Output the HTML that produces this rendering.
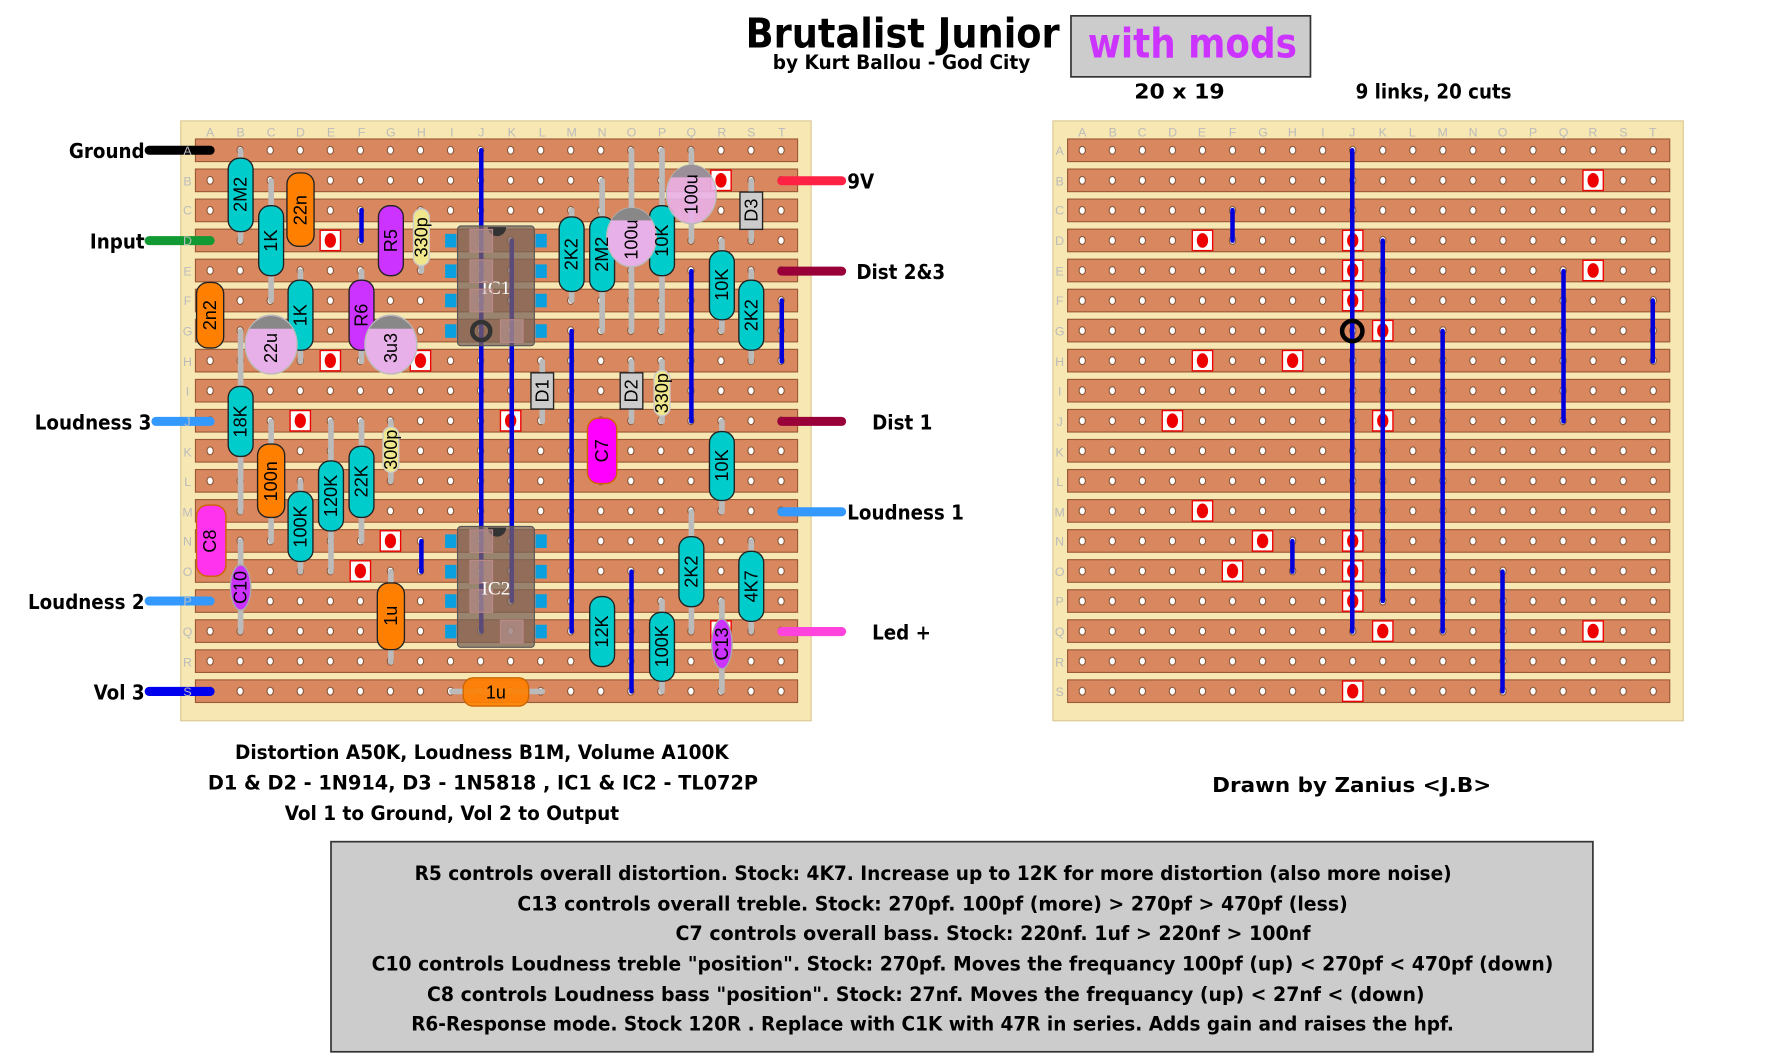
<!DOCTYPE html>
<html><head><meta charset="utf-8"><style>
html,body{margin:0;padding:0;background:#fff;}
svg{display:block;}
.t{font-family:"DejaVu Sans Condensed","Liberation Sans Narrow","Liberation Sans",sans-serif;font-weight:bold;fill:#000;}
.g{font-family:"Liberation Sans",sans-serif;font-size:11px;fill:#bbb;text-anchor:middle;}
.cl{font-family:"Liberation Sans",sans-serif;font-size:16px;text-anchor:middle;dominant-baseline:central;fill:#000;}
.lead{stroke:#bbb;stroke-width:5;stroke-linecap:round;}
.c{stroke:#222;stroke-width:1.2;}
.lk{stroke:#0000dd;stroke-width:4;stroke-linecap:round;}
.w{stroke-width:8;stroke-linecap:round;}
</style></head><body>
<svg id="s" width="1768" height="1062" viewBox="0 0 1565 940" xmlns="http://www.w3.org/2000/svg">
<defs><clipPath id="ct1"><rect x="0" y="0" width="1565" height="8"/></clipPath></defs>
<text class="t" x="660" y="42" font-size="36" textLength="278" lengthAdjust="spacingAndGlyphs">Brutalist Junior</text>
<text class="t" x="684" y="61" font-size="17" textLength="228" lengthAdjust="spacingAndGlyphs">by Kurt Ballou - God City</text>
<rect x="948" y="14" width="212" height="54" fill="#cccccc" stroke="#333" stroke-width="1.5"/>
<text class="t" x="963" y="51" font-size="36" style="fill:#cc33ff" textLength="185" lengthAdjust="spacingAndGlyphs">with  mods</text>
<text class="t" x="1004" y="87" font-size="18" textLength="80" lengthAdjust="spacingAndGlyphs">20 x 19</text>
<text class="t" x="1200" y="87" font-size="18" textLength="138" lengthAdjust="spacingAndGlyphs">9 links, 20 cuts</text>

<rect x="160" y="107" width="558" height="531" fill="#f7e7b2" stroke="#d8c890"/>
<rect x="932" y="107" width="558" height="531" fill="#f7e7b2" stroke="#d8c890"/>
<g id="strips"></g>
<g id="letters"></g>
<g id="holes"></g>
<g id="cutsL"></g>
<g id="cutsR"></g>

<line class="w" x1="132" y1="133" x2="186" y2="133" stroke="#000"/>
<line class="w" x1="132" y1="213" x2="186" y2="213" stroke="#119933"/>
<line class="w" x1="138" y1="373" x2="186" y2="373" stroke="#3399ff"/>
<line class="w" x1="132" y1="532" x2="186" y2="532" stroke="#3399ff"/>
<line class="w" x1="132" y1="612" x2="186" y2="612" stroke="#0000ee"/>
<line class="w" x1="692" y1="160" x2="745" y2="160" stroke="#ff2244"/>
<line class="w" x1="692" y1="240" x2="745" y2="240" stroke="#99003a"/>
<line class="w" x1="692" y1="373" x2="745" y2="373" stroke="#99003a"/>
<line class="w" x1="692" y1="453" x2="745" y2="453" stroke="#3399ff"/>
<line class="w" x1="692" y1="559" x2="745" y2="559" stroke="#ff44dd"/>
<text class="t" x="128" y="140" font-size="18" text-anchor="end">Ground</text>
<text class="t" x="128" y="220" font-size="18" text-anchor="end">Input</text>
<text class="t" x="134" y="380" font-size="18" text-anchor="end">Loudness 3</text>
<text class="t" x="128" y="539" font-size="18" text-anchor="end">Loudness 2</text>
<text class="t" x="128" y="619" font-size="18" text-anchor="end">Vol 3</text>
<text class="t" x="750" y="167" font-size="18">9V</text>
<text class="t" x="758" y="247" font-size="18">Dist 2&amp;3</text>
<text class="t" x="772" y="380" font-size="18">Dist 1</text>
<text class="t" x="750" y="460" font-size="18">Loudness 1</text>
<text class="t" x="772" y="566" font-size="18">Led +</text>

<line class="lk" x1="426" y1="133" x2="426" y2="559"/>
<line class="lk" x1="453" y1="213" x2="453" y2="532"/>
<line class="lk" x1="320" y1="186" x2="320" y2="213"/>
<line class="lk" x1="506" y1="293" x2="506" y2="559"/>
<line class="lk" x1="612" y1="240" x2="612" y2="373"/>
<line class="lk" x1="692" y1="266" x2="692" y2="320"/>
<line class="lk" x1="559" y1="506" x2="559" y2="612"/>
<line class="lk" x1="373" y1="479" x2="373" y2="506"/>
<line class="lk" x1="1197" y1="133" x2="1197" y2="559"/>
<line class="lk" x1="1224" y1="213" x2="1224" y2="532"/>
<line class="lk" x1="1091" y1="186" x2="1091" y2="213"/>
<line class="lk" x1="1277" y1="293" x2="1277" y2="559"/>
<line class="lk" x1="1384" y1="240" x2="1384" y2="373"/>
<line class="lk" x1="1463" y1="266" x2="1463" y2="320"/>
<line class="lk" x1="1330" y1="506" x2="1330" y2="612"/>
<line class="lk" x1="1144" y1="479" x2="1144" y2="506"/>
<circle cx="1197" cy="293" r="9" fill="none" stroke="#000" stroke-width="4"/>

<g>
<line class="lead" x1="213" y1="133" x2="213" y2="213"/>
<line class="lead" x1="240" y1="160" x2="240" y2="266"/>
<line class="lead" x1="266" y1="160" x2="266" y2="213"/>
<line class="lead" x1="346" y1="186" x2="346" y2="240"/>
<line class="lead" x1="373" y1="186" x2="373" y2="240"/>
<line class="lead" x1="506" y1="186" x2="506" y2="266"/>
<line class="lead" x1="533" y1="160" x2="533" y2="293"/>
<line class="lead" x1="559" y1="133" x2="559" y2="293"/>
<line class="lead" x1="586" y1="133" x2="586" y2="293"/>
<line class="lead" x1="612" y1="133" x2="612" y2="213"/>
<line class="lead" x1="665" y1="160" x2="665" y2="213"/>
<line class="lead" x1="639" y1="213" x2="639" y2="293"/>
<line class="lead" x1="665" y1="240" x2="665" y2="320"/>
<line class="lead" x1="266" y1="240" x2="266" y2="320"/>
<line class="lead" x1="320" y1="240" x2="320" y2="320"/>
<line class="lead" x1="213" y1="293" x2="213" y2="453"/>
<line class="lead" x1="480" y1="320" x2="480" y2="373"/>
<line class="lead" x1="559" y1="320" x2="559" y2="373"/>
<line class="lead" x1="586" y1="320" x2="586" y2="373"/>
<line class="lead" x1="346" y1="373" x2="346" y2="426"/>
<line class="lead" x1="240" y1="373" x2="240" y2="479"/>
<line class="lead" x1="293" y1="373" x2="293" y2="506"/>
<line class="lead" x1="320" y1="373" x2="320" y2="479"/>
<line class="lead" x1="266" y1="426" x2="266" y2="506"/>
<line class="lead" x1="639" y1="373" x2="639" y2="453"/>
<line class="lead" x1="213" y1="479" x2="213" y2="559"/>
<line class="lead" x1="346" y1="506" x2="346" y2="586"/>
<line class="lead" x1="533" y1="532" x2="533" y2="586"/>
<line class="lead" x1="586" y1="532" x2="586" y2="612"/>
<line class="lead" x1="612" y1="453" x2="612" y2="559"/>
<line class="lead" x1="665" y1="479" x2="665" y2="559"/>
<line class="lead" x1="639" y1="532" x2="639" y2="612"/>
<line class="lead" x1="400" y1="612" x2="480" y2="612"/>
</g>

<g>
<g fill="#0aa0e0"><rect x="394" y="207" width="10" height="12"/><rect x="394" y="234" width="10" height="12"/><rect x="394" y="260" width="10" height="12"/><rect x="394" y="287" width="10" height="12"/>
<rect x="474" y="207" width="10" height="12"/><rect x="474" y="234" width="10" height="12"/><rect x="474" y="260" width="10" height="12"/><rect x="474" y="287" width="10" height="12"/>
<rect x="394" y="473" width="10" height="12"/><rect x="394" y="500" width="10" height="12"/><rect x="394" y="526" width="10" height="12"/><rect x="394" y="553" width="10" height="12"/>
<rect x="474" y="473" width="10" height="12"/><rect x="474" y="500" width="10" height="12"/><rect x="474" y="526" width="10" height="12"/><rect x="474" y="553" width="10" height="12"/></g>
<rect x="405" y="200" width="68" height="106" rx="3" fill="#7a6458" fill-opacity="0.75" stroke="#555"/>
<path d="M432 201 a8 8 0 0 0 16 0z" fill="#333"/>
<circle cx="426" cy="293" r="8" fill="none" stroke="#333" stroke-width="4"/>
<text x="439" y="260" font-family="Liberation Serif,serif" font-size="17" fill="#fff" text-anchor="middle">IC1</text>
<rect x="405" y="466" width="68" height="107" rx="3" fill="#7a6458" fill-opacity="0.75" stroke="#555"/>
<path d="M432 467 a8 8 0 0 0 16 0z" fill="#333"/>
<g fill="#c0a0a0" fill-opacity="0.5" stroke="#bb8888"><rect x="416" y="203" width="20" height="20"/><rect x="416" y="230" width="20" height="20"/><rect x="416" y="256" width="20" height="20"/><rect x="443" y="283" width="20" height="20"/><rect x="416" y="469" width="20" height="20"/><rect x="416" y="496" width="20" height="20"/><rect x="416" y="522" width="20" height="20"/><rect x="443" y="549" width="20" height="20"/></g>
<text x="439" y="526" font-family="Liberation Serif,serif" font-size="17" fill="#fff" text-anchor="middle">IC2</text>
</g>

<g class="c">
<rect x="202" y="140" width="22" height="65" rx="10" fill="#00cccc"/>
<rect x="229" y="182" width="22" height="62" rx="10" fill="#00cccc"/>
<rect x="254" y="153" width="24" height="65" rx="10" fill="#ff8000"/>
<rect x="335" y="182" width="22" height="62" rx="10" fill="#cc33ff"/>
<rect x="366" y="185" width="14" height="50" rx="7" fill="#f0e68c" stroke="#ccc"/>
<rect x="495" y="192" width="22" height="66" rx="10" fill="#00cccc"/>
<rect x="522" y="192" width="22" height="66" rx="10" fill="#00cccc"/>
<rect x="575" y="182" width="22" height="62" rx="10" fill="#00cccc"/>
<ellipse cx="559" cy="210" rx="22" ry="26" fill="#e8b0e8" stroke="#bbb"/>
<path d="M541 195 A22 26 0 0 1 577 195 Z" fill="#888" stroke="none"/>
<ellipse cx="612" cy="172" rx="22" ry="26" fill="#e8b0e8" fill-opacity="0.9" stroke="#bbb"/>
<path d="M594 157 A22 26 0 0 1 630 157 Z" fill="#888" fill-opacity="0.8" stroke="none"/>
<rect x="655" y="170" width="20" height="33" fill="#cccccc"/>
<rect x="628" y="222" width="22" height="61" rx="10" fill="#00cccc"/>
<rect x="654" y="248" width="22" height="62" rx="10" fill="#00cccc"/>
<rect x="174" y="250" width="24" height="58" rx="10" fill="#ff8000"/>
<rect x="255" y="248" width="22" height="62" rx="10" fill="#00cccc"/>
<rect x="309" y="248" width="22" height="62" rx="10" fill="#cc33ff"/>
<ellipse cx="240" cy="305" rx="23" ry="26" fill="#e8b0e8" stroke="#bbb"/>
<path d="M221 291 A23 26 0 0 1 259 291 Z" fill="#888" stroke="none"/>
<ellipse cx="346" cy="305" rx="23" ry="26" fill="#e8b0e8" stroke="#bbb"/>
<path d="M327 291 A23 26 0 0 1 365 291 Z" fill="#888" stroke="none"/>
<rect x="470" y="330" width="20" height="32" fill="#cccccc"/>
<rect x="549" y="330" width="20" height="32" fill="#cccccc"/>
<rect x="579" y="328" width="14" height="40" rx="7" fill="#f0e68c" stroke="#ccc"/>
<rect x="202" y="342" width="22" height="62" rx="10" fill="#00cccc"/>
<rect x="339" y="378" width="14" height="40" rx="7" fill="#f0e68c" stroke="#ccc"/>
<rect x="228" y="393" width="24" height="65" rx="10" fill="#ff8000"/>
<rect x="282" y="408" width="22" height="62" rx="10" fill="#00cccc"/>
<rect x="309" y="395" width="22" height="63" rx="10" fill="#00cccc"/>
<rect x="255" y="435" width="22" height="62" rx="10" fill="#00cccc"/>
<rect x="520" y="370" width="26" height="58" rx="10" fill="#ff00ff" stroke="#c60"/>
<rect x="628" y="382" width="22" height="61" rx="10" fill="#00cccc"/>
<rect x="174" y="447" width="26" height="63" rx="10" fill="#ff33ee" stroke="#c60"/>
<ellipse cx="213" cy="520" rx="9" ry="20" fill="#cc33ff" stroke="#aaa"/>
<rect x="334" y="516" width="24" height="59" rx="10" fill="#ff8000"/>
<rect x="522" y="528" width="22" height="62" rx="10" fill="#00cccc"/>
<rect x="575" y="542" width="22" height="61" rx="10" fill="#00cccc"/>
<rect x="601" y="475" width="22" height="62" rx="10" fill="#00cccc"/>
<rect x="654" y="488" width="22" height="62" rx="10" fill="#00cccc"/>
<ellipse cx="639" cy="570" rx="9" ry="22" fill="#cc33ff" stroke="#aaa"/>
<rect x="410" y="600" width="58" height="25" rx="9" fill="#ff8000" fill-opacity="0.9" stroke="#c60"/>
</g>
<g>
<text class="cl" transform="translate(213,172) rotate(-90)">2M2</text>
<text class="cl" transform="translate(240,213) rotate(-90)">1K</text>
<text class="cl" transform="translate(266,186) rotate(-90)">22n</text>
<text class="cl" transform="translate(346,213) rotate(-90)">R5</text>
<text class="cl" font-size="14" transform="translate(373,210) rotate(-90)">330p</text>
<text class="cl" transform="translate(506,225) rotate(-90)">2K2</text>
<text class="cl" transform="translate(533,225) rotate(-90)">2M2</text>
<text class="cl" transform="translate(586,213) rotate(-90)">10K</text>
<text class="cl" transform="translate(559,212) rotate(-90)">100u</text>
<text class="cl" transform="translate(612,172) rotate(-90)">100u</text>
<text class="cl" transform="translate(665,186) rotate(-90)">D3</text>
<text class="cl" transform="translate(639,252) rotate(-90)">10K</text>
<text class="cl" transform="translate(665,279) rotate(-90)">2K2</text>
<text class="cl" transform="translate(186,279) rotate(-90)">2n2</text>
<text class="cl" transform="translate(266,279) rotate(-90)">1K</text>
<text class="cl" transform="translate(320,279) rotate(-90)">R6</text>
<text class="cl" transform="translate(240,308) rotate(-90)">22u</text>
<text class="cl" transform="translate(346,308) rotate(-90)">3u3</text>
<text class="cl" transform="translate(480,346) rotate(-90)">D1</text>
<text class="cl" transform="translate(559,346) rotate(-90)">D2</text>
<text class="cl" font-size="14" transform="translate(586,348) rotate(-90)">330p</text>
<text class="cl" transform="translate(213,373) rotate(-90)">18K</text>
<text class="cl" font-size="14" transform="translate(346,398) rotate(-90)">300p</text>
<text class="cl" transform="translate(240,426) rotate(-90)">100n</text>
<text class="cl" transform="translate(293,439) rotate(-90)">120K</text>
<text class="cl" transform="translate(320,426) rotate(-90)">22K</text>
<text class="cl" transform="translate(266,466) rotate(-90)">100K</text>
<text class="cl" transform="translate(533,399) rotate(-90)">C7</text>
<text class="cl" transform="translate(639,412) rotate(-90)">10K</text>
<text class="cl" transform="translate(186,479) rotate(-90)">C8</text>
<text class="cl" font-size="14" transform="translate(213,520) rotate(-90)">C10</text>
<text class="cl" transform="translate(346,545) rotate(-90)">1u</text>
<text class="cl" transform="translate(533,559) rotate(-90)">12K</text>
<text class="cl" transform="translate(586,572) rotate(-90)">100K</text>
<text class="cl" transform="translate(612,506) rotate(-90)">2K2</text>
<text class="cl" transform="translate(665,519) rotate(-90)">4K7</text>
<text class="cl" font-size="14" transform="translate(639,570) rotate(-90)">C13</text>
<text class="cl" x="439" y="613">1u</text>
</g>

<text class="t" x="208" y="672" font-size="17" textLength="437" lengthAdjust="spacingAndGlyphs">Distortion A50K, Loudness B1M, Volume A100K</text>
<text class="t" x="184" y="699" font-size="17" textLength="487" lengthAdjust="spacingAndGlyphs">D1 &amp; D2 - 1N914,  D3 - 1N5818 ,  IC1 &amp; IC2 - TL072P</text>
<text class="t" x="252" y="726" font-size="17" textLength="296" lengthAdjust="spacingAndGlyphs">Vol 1 to Ground, Vol 2 to Output</text>
<text class="t" x="1073" y="701" font-size="18" textLength="247" lengthAdjust="spacingAndGlyphs">Drawn by Zanius &lt;J.B&gt;</text>

<rect x="293" y="745" width="1117" height="186" fill="#cccccc" stroke="#333" stroke-width="1.5"/>
<text class="t" x="367" y="779" font-size="17" textLength="918" lengthAdjust="spacingAndGlyphs">R5 controls overall distortion. Stock: 4K7. Increase up to 12K for more distortion (also more noise)</text>
<text class="t" x="458" y="806" font-size="17" textLength="735" lengthAdjust="spacingAndGlyphs">C13 controls overall treble. Stock: 270pf.   100pf (more) &gt; 270pf &gt; 470pf (less)</text>
<text class="t" x="598" y="832" font-size="17" textLength="562" lengthAdjust="spacingAndGlyphs">C7 controls overall bass. Stock: 220nf.   1uf &gt; 220nf &gt; 100nf</text>
<text class="t" x="329" y="859" font-size="17" textLength="1046" lengthAdjust="spacingAndGlyphs">C10 controls Loudness treble "position". Stock: 270pf.  Moves the frequancy  100pf (up) &lt; 270pf &lt; 470pf (down)</text>
<text class="t" x="378" y="886" font-size="17" textLength="883" lengthAdjust="spacingAndGlyphs">C8 controls Loudness bass "position". Stock: 27nf.  Moves the frequancy  (up) &lt; 27nf &lt; (down)</text>
<text class="t" x="364" y="912" font-size="17" textLength="923" lengthAdjust="spacingAndGlyphs">R6-Response mode. Stock 120R . Replace with C1K with 47R in series. Adds gain and raises the hpf.</text>

<g class="g">
<text x="186" y="121">A</text><text x="213" y="121">B</text><text x="240" y="121">C</text><text x="266" y="121">D</text><text x="293" y="121">E</text><text x="320" y="121">F</text><text x="346" y="121">G</text><text x="373" y="121">H</text><text x="400" y="121">I</text><text x="426" y="121">J</text><text x="453" y="121">K</text><text x="480" y="121">L</text><text x="506" y="121">M</text><text x="533" y="121">N</text><text x="559" y="121">O</text><text x="586" y="121">P</text><text x="612" y="121">Q</text><text x="639" y="121">R</text><text x="665" y="121">S</text><text x="692" y="121">T</text>
<text x="958" y="121">A</text><text x="985" y="121">B</text><text x="1011" y="121">C</text><text x="1038" y="121">D</text><text x="1064" y="121">E</text><text x="1091" y="121">F</text><text x="1118" y="121">G</text><text x="1144" y="121">H</text><text x="1171" y="121">I</text><text x="1197" y="121">J</text><text x="1224" y="121">K</text><text x="1250" y="121">L</text><text x="1277" y="121">M</text><text x="1304" y="121">N</text><text x="1330" y="121">O</text><text x="1357" y="121">P</text><text x="1384" y="121">Q</text><text x="1410" y="121">R</text><text x="1437" y="121">S</text><text x="1463" y="121">T</text>
<text x="166" y="137">A</text><text x="166" y="164">B</text><text x="166" y="190">C</text><text x="166" y="217">D</text><text x="166" y="244">E</text><text x="166" y="270">F</text><text x="166" y="297">G</text><text x="166" y="324">H</text><text x="166" y="350">I</text><text x="166" y="377">J</text><text x="166" y="404">K</text><text x="166" y="430">L</text><text x="166" y="457">M</text><text x="166" y="483">N</text><text x="166" y="510">O</text><text x="166" y="536">P</text><text x="166" y="563">Q</text><text x="166" y="590">R</text><text x="166" y="616">S</text>
<text x="938" y="137">A</text><text x="938" y="164">B</text><text x="938" y="190">C</text><text x="938" y="217">D</text><text x="938" y="244">E</text><text x="938" y="270">F</text><text x="938" y="297">G</text><text x="938" y="324">H</text><text x="938" y="350">I</text><text x="938" y="377">J</text><text x="938" y="404">K</text><text x="938" y="430">L</text><text x="938" y="457">M</text><text x="938" y="483">N</text><text x="938" y="510">O</text><text x="938" y="536">P</text><text x="938" y="563">Q</text><text x="938" y="590">R</text><text x="938" y="616">S</text>
</g>
</svg>
<script>
(function(){
var NS="http://www.w3.org/2000/svg";
function el(p,n,a){var e=document.createElementNS(NS,n);for(var k in a)e.setAttribute(k,a[k]);p.appendChild(e);return e;}
var st=document.getElementById("strips"),ho=document.getElementById("holes");
var cl=document.getElementById("cutsL"),cr=document.getElementById("cutsR");
var P=26.6;
[[173,186],[945,958]].forEach(function(b){
 for(var r=0;r<19;r++){var y=133+r*P;
  el(st,"rect",{x:b[0],y:y-10,width:533,height:20,fill:"#d9875f",stroke:"#9a5a36","stroke-width":1});
  for(var c=0;c<20;c++){el(ho,"ellipse",{cx:b[1]+c*P,cy:y,rx:2.8,ry:3.5,fill:"#fff",stroke:"#8b5a3c","stroke-width":1});}
 }
});
function cut(g,x0,c,r){var x=x0+c*P,y=133+r*P;
 el(g,"rect",{x:x-9,y:y-9,width:18,height:18,fill:"#fff",stroke:"#e00","stroke-width":1.2});
 el(g,"ellipse",{cx:x,cy:y,rx:5,ry:6.5,fill:"#ee0000"});}
var cuts=[[17,1],[4,3],[9,3],[9,4],[17,4],[9,5],[10,6],[4,7],[7,7],[3,9],[10,9],[4,12],[6,13],[9,13],[5,14],[9,14],[9,15],[10,16],[17,16],[9,18]];
cuts.forEach(function(q){cut(cr,958,q[0],q[1]);});
[[17,1],[4,3],[4,7],[7,7],[3,9],[10,9],[6,13],[5,14],[17,16]].forEach(function(q){cut(cl,186,q[0],q[1]);});
})();
</script>
</body></html>
